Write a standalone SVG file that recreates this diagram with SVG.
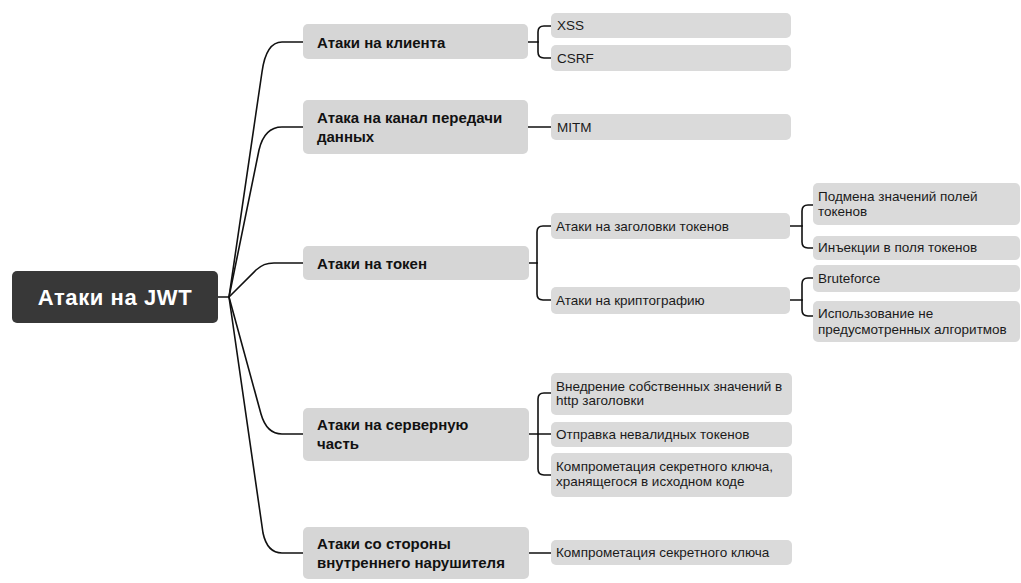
<svg xmlns="http://www.w3.org/2000/svg" width="1021" height="583" viewBox="0 0 1021 583">
<style>
.bg{fill:#ffffff}
.root rect{fill:#383838}
.root text{fill:#ffffff;font-family:"Liberation Sans",Arial,sans-serif;font-weight:bold;font-size:22px;letter-spacing:0.6px}
.l1 rect{fill:#d6d6d6}
.l1 text{fill:#111111;font-family:"Liberation Sans",Arial,sans-serif;font-weight:bold;font-size:15px}
.l2 rect{fill:#dadada}
.l2 text{fill:#1a1a1a;font-family:"Liberation Sans",Arial,sans-serif;font-size:13.5px}
.conn path{fill:none;stroke:#111111;stroke-width:1.6;stroke-linecap:round;stroke-linejoin:round}
</style>
<rect class="bg" x="0" y="0" width="1021" height="583"/>
<g id="connectors" class="conn">
<path d="M218 297 H229"/>
<path d="M229 297 L262 72 C265 50 272 42 282 42 H303"/>
<path d="M229 297 L259 150 C263 133 271 127 282 127 H303"/>
<path d="M229 297 L256 270 C262 265 266 263 274 263 H303"/>
<path d="M229 297 L261 414 C265 428 272 434 282 434 H303"/>
<path d="M229 297 L263 533 C266 547 272 553 282 553 H303"/>
<path d="M528 42 H538"/>
<path d="M538 42 V32 Q538 26 544 26 H551"/>
<path d="M538 42 V52 Q538 58 544 58 H551"/>
<path d="M528 127 H551"/>
<path d="M529 263 H537"/>
<path d="M537 263 V232 Q537 226 543 226 H551"/>
<path d="M537 263 V294 Q537 300 543 300 H551"/>
<path d="M790 226 H802"/>
<path d="M802 226 V211 Q802 205 808 205 H813"/>
<path d="M802 226 V242 Q802 248 808 248 H813"/>
<path d="M790 300 H802"/>
<path d="M802 300 V284 Q802 278 808 278 H813"/>
<path d="M802 300 V310 Q802 316 808 316 H813"/>
<path d="M529 434 H551"/>
<path d="M538 434 V399 Q538 393 544 393 H551"/>
<path d="M538 434 V469 Q538 475 544 475 H551"/>
<path d="M529 553 H551"/>
</g>
<g id="root" class="root">
<rect x="12" y="271" width="206" height="52" rx="5"/>
<text x="115" y="305" text-anchor="middle">Атаки на JWT</text>
</g>
<g id="n-client" class="l1">
<rect x="303" y="24" width="225" height="35" rx="5"/>
<text x="317" y="47.5">Атаки на клиента</text>
</g>
<g id="n-channel" class="l1">
<rect x="303" y="100" width="225" height="54" rx="5"/>
<text x="317" y="122.5">Атака на канал передачи</text>
<text x="317" y="141.5">данных</text>
</g>
<g id="n-token" class="l1">
<rect x="303" y="246" width="226" height="34" rx="5"/>
<text x="317" y="268.5">Атаки на токен</text>
</g>
<g id="n-server" class="l1">
<rect x="303" y="408" width="226" height="53" rx="5"/>
<text x="317" y="430">Атаки на серверную</text>
<text x="317" y="449">часть</text>
</g>
<g id="n-insider" class="l1">
<rect x="303" y="527" width="226" height="52" rx="5"/>
<text x="317" y="548.5">Атаки со стороны</text>
<text x="317" y="567.5">внутреннего нарушителя</text>
</g>
<g id="n-xss" class="l2">
<rect x="551" y="13" width="240" height="25" rx="5"/>
<text x="557" y="30">XSS</text>
</g>
<g id="n-csrf" class="l2">
<rect x="551" y="45" width="240" height="26" rx="5"/>
<text x="557" y="62.5">CSRF</text>
</g>
<g id="n-mitm" class="l2">
<rect x="551" y="114" width="240" height="26" rx="5"/>
<text x="557" y="131.5">MITM</text>
</g>
<g id="n-headers" class="l2">
<rect x="551" y="213" width="239" height="26" rx="5"/>
<text x="556" y="230.5">Атаки на заголовки токенов</text>
</g>
<g id="n-crypto" class="l2">
<rect x="551" y="287" width="239" height="27" rx="5"/>
<text x="556" y="305">Атаки на криптографию</text>
</g>
<g id="n-subst" class="l2">
<rect x="813" y="183" width="207" height="42" rx="5"/>
<text x="818" y="200.5">Подмена значений полей</text>
<text x="818" y="216">токенов</text>
</g>
<g id="n-inject" class="l2">
<rect x="813" y="236" width="207" height="24" rx="5"/>
<text x="818" y="252">Инъекции в поля токенов</text>
</g>
<g id="n-brute" class="l2">
<rect x="813" y="265" width="207" height="27" rx="5"/>
<text x="818" y="283">Bruteforce</text>
</g>
<g id="n-algo" class="l2">
<rect x="813" y="301" width="207" height="41" rx="5"/>
<text x="818" y="318">Использование не</text>
<text x="818" y="333.5">предусмотренных алгоритмов</text>
</g>
<g id="n-http" class="l2">
<rect x="551" y="373" width="241" height="42" rx="5"/>
<text x="556" y="390.5">Внедрение собственных значений в</text>
<text x="556" y="405">http заголовки</text>
</g>
<g id="n-invalid" class="l2">
<rect x="551" y="422" width="241" height="25" rx="5"/>
<text x="556" y="439">Отправка невалидных токенов</text>
</g>
<g id="n-source" class="l2">
<rect x="551" y="453" width="241" height="44" rx="5"/>
<text x="556" y="470.5">Компрометация секретного ключа,</text>
<text x="556" y="485.5">хранящегося в исходном коде</text>
</g>
<g id="n-key" class="l2">
<rect x="551" y="540" width="241" height="25" rx="5"/>
<text x="556" y="557">Компрометация секретного ключа</text>
</g>
</svg>
